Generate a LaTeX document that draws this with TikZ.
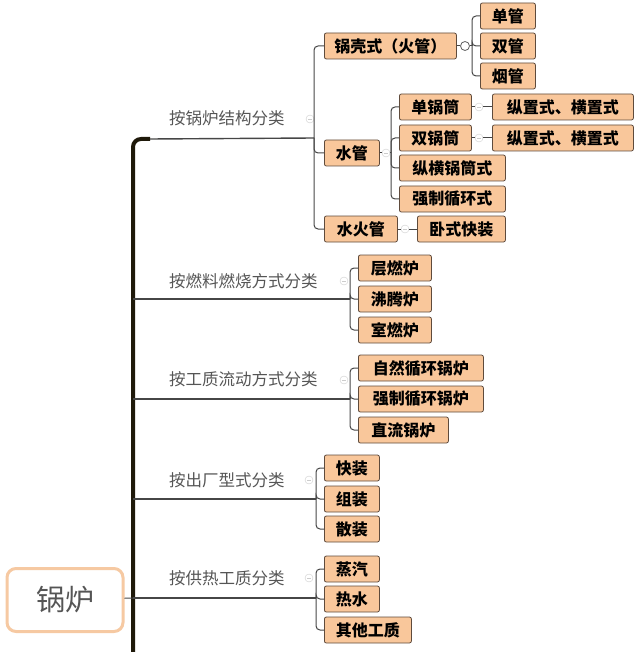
\documentclass[tikz,border=0pt]{standalone}
\usepackage{fontspec}
\setmainfont{Noto Sans CJK SC}
\usepackage{xcolor}
\definecolor{boxfill}{RGB}{249,199,155}
\definecolor{boxline}{RGB}{95,75,60}
\definecolor{labelgray}{RGB}{85,85,85}
\definecolor{linegray}{RGB}{70,70,70}
\definecolor{trunkcol}{RGB}{30,25,10}
\definecolor{rootline}{RGB}{246,201,162}

\begin{document}
\begin{tikzpicture}[x=1pt, y=-1pt,
  leaf/.style={rectangle, rounded corners=2pt, draw=boxline, fill=boxfill, line width=0.8pt,
    minimum height=26pt, inner xsep=3pt, inner ysep=0pt, anchor=west,
    font=\fontsize{16}{16}\selectfont\bfseries},
  cat/.style={anchor=west, text=labelgray, inner sep=0pt, font=\fontsize{16.5}{16.5}\selectfont},
  root/.style={rectangle, rounded corners=9pt, draw=rootline, line width=3pt, fill=white,
    minimum width=116pt, minimum height=63pt, text=labelgray, font=\fontsize{29}{29}\selectfont},
  fold/.style={circle, draw=gray!40, minimum size=8pt, inner sep=0pt,
    path picture={\draw[gray!40] ([xshift=-2pt]path picture bounding box.center)
      -- ([xshift=2pt]path picture bounding box.center);}},
  ring/.style={circle, draw=gray!75!black, fill=white, minimum size=9pt, inner sep=0pt, line width=0.8pt},
  lnk/.style={draw=linegray, line width=1pt, rounded corners=4pt},
  branch/.style={draw=linegray, line width=1.4pt},
  trunk/.style={draw=trunkcol, line width=4pt, rounded corners=8pt},
]
\useasboundingbox (0,0) rectangle (640,652);

\node[root] (gl) at (65,600) {锅炉};

\node[cat] (c1) at (169,118) {按锅炉结构分类};
\node[cat] (c2) at (169,281) {按燃料燃烧方式分类};
\node[cat] (c3) at (169,379) {按工质流动方式分类};
\node[cat] (c4) at (169,480) {按出厂型式分类};
\node[cat] (c5) at (169,578) {按供热工质分类};
\node[fold] (c1f) at (310,119) {};
\node[fold] (c2f) at (344,281) {};
\node[fold] (c3f) at (344,380) {};
\node[fold] (c4f) at (309,480) {};
\node[fold] (c5f) at (309,578) {};

\node[leaf, minimum width=132pt] (gk) at (324,46) {锅壳式（火管）};
\node[leaf, minimum width=55pt] (dg) at (480,16) {单管};
\node[leaf, minimum width=55pt] (sg) at (480,46) {双管};
\node[leaf, minimum width=55pt] (yg) at (480,76) {烟管};
\node[leaf, minimum width=55pt] (shg) at (324,153) {水管};
\node[leaf, minimum width=72pt] (dgt) at (399,107) {单锅筒};
\node[leaf, minimum width=72pt] (sgt) at (399,138) {双锅筒};
\node[leaf, minimum width=141pt] (zh1) at (492,107) {纵置式、横置式};
\node[leaf, minimum width=141pt] (zh2) at (492,138) {纵置式、横置式};
\node[leaf, minimum width=106pt] (zhg) at (399,168) {纵横锅筒式};
\node[leaf, minimum width=106pt] (qzs) at (399,199) {强制循环式};
\node[leaf, minimum width=73pt] (shh) at (324,229) {水火管};
\node[leaf, minimum width=88pt] (wskz) at (417,229) {卧式快装};

\node[leaf, minimum width=73pt] (crl) at (358,268) {层燃炉};
\node[leaf, minimum width=73pt] (ftl) at (358,299) {沸腾炉};
\node[leaf, minimum width=73pt] (srl) at (358,330) {室燃炉};

\node[leaf, minimum width=125pt] (zrxh) at (358,368) {自然循环锅炉};
\node[leaf, minimum width=125pt] (qzxh) at (358,399) {强制循环锅炉};
\node[leaf, minimum width=90pt] (zlgl) at (358,430) {直流锅炉};

\node[leaf, minimum width=55pt] (kz) at (324,468) {快装};
\node[leaf, minimum width=55pt] (zz) at (324,499) {组装};
\node[leaf, minimum width=55pt] (sz) at (324,529) {散装};

\node[leaf, minimum width=55pt] (zq) at (324,569) {蒸汽};
\node[leaf, minimum width=55pt] (rs) at (324,599) {热水};
\node[leaf, minimum width=87pt] (qt) at (324,630) {其他工质};

\node[ring] (gkf) at (465,46) {};
\node[fold] (shgf) at (386,153) {};
\node[fold] (dgtf) at (479,107) {};
\node[fold] (sgtf) at (479,138) {};
\node[fold] (shhf) at (405,229) {};

\coordinate (j1) at (314,138);
\coordinate (j11) at (472,46);
\coordinate (j12) at (391,153);
\coordinate (j2) at (350,299);
\coordinate (j3) at (350,399);
\coordinate (j4) at (316,499);
\coordinate (j5) at (316,598);
\coordinate (t2) at (133,299);
\coordinate (t3) at (133,399);
\coordinate (t4) at (133,499);
\coordinate (t5) at (133,598);
\coordinate (tb) at (133,652);
\coordinate (tt) at (150,139);

\draw[trunk] (tb) |- (tt);
\draw[branch] (tt) -- (j1);
\draw[branch] (t2) -- (j2);
\draw[branch] (t3) -- (j3);
\draw[branch] (t4) -- (j4);
\draw[branch] (t5) -- (j5);
\draw[lnk] (gl) -- (t5);

\draw[lnk] (j1) |- (gk.west);
\draw[lnk] (j1) |- (shg.west);
\draw[lnk] (j1) |- (shh.west);
\draw[lnk] (gk) -- (gkf);
\draw[lnk] (gkf) -- (j11);
\draw[lnk] (j11) |- (dg.west);
\draw[lnk] (j11) |- (sg.west);
\draw[lnk] (j11) |- (yg.west);
\draw[lnk] (shg) -- (shgf);
\draw[lnk] (shgf) -- (j12);
\draw[lnk] (j12) |- (dgt.west);
\draw[lnk] (j12) |- (sgt.west);
\draw[lnk] (j12) |- (zhg.west);
\draw[lnk] (j12) |- (qzs.west);
\draw[lnk] (dgt) -- (dgtf);
\draw[lnk] (dgtf) -- (zh1);
\draw[lnk] (sgt) -- (sgtf);
\draw[lnk] (sgtf) -- (zh2);
\draw[lnk] (shh) -- (shhf);
\draw[lnk] (shhf) -- (wskz);

\draw[lnk] (j2) |- (crl.west);
\draw[lnk] (j2) |- (ftl.west);
\draw[lnk] (j2) |- (srl.west);
\draw[lnk] (j3) |- (zrxh.west);
\draw[lnk] (j3) |- (qzxh.west);
\draw[lnk] (j3) |- (zlgl.west);
\draw[lnk] (j4) |- (kz.west);
\draw[lnk] (j4) |- (zz.west);
\draw[lnk] (j4) |- (sz.west);
\draw[lnk] (j5) |- (zq.west);
\draw[lnk] (j5) |- (rs.west);
\draw[lnk] (j5) |- (qt.west);
\end{tikzpicture}
\end{document}
